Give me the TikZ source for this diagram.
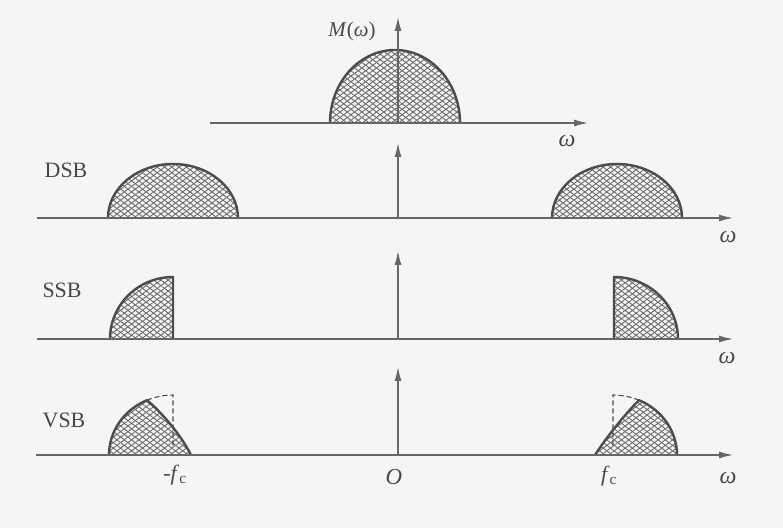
\documentclass[tikz,border=0pt]{standalone}
\usepackage{fontspec}
\setmainfont{Liberation Serif}
\usetikzlibrary{arrows.meta,patterns.meta}
\definecolor{paper}{HTML}{F5F5F5}
\definecolor{ink}{HTML}{4C4C4C}
\definecolor{axisc}{HTML}{666666}
\definecolor{hatchc}{HTML}{6A6A6A}
\definecolor{txt}{HTML}{484848}
\begin{document}
\begin{tikzpicture}[x=1bp,y=1bp,
  axis/.style={draw=axisc,line width=1.3bp,-{Latex[length=14bp,width=7bp]}},
  hatchfill/.style={preaction={pattern={Lines[angle=-37,distance=4.4bp,line width=.9bp]},pattern color=hatchc},
                    pattern={Lines[angle=37,distance=4.4bp,line width=.9bp]},pattern color=hatchc},
  outline/.style={draw=ink,line width=2.4bp,line join=round,line cap=round},
  dashline/.style={draw=ink,line width=1.1bp,dash pattern=on 5bp off 3bp},
  lab/.style={inner sep=0pt,text=txt},
  bandlab/.style={lab,font=\fontsize{22}{22}\selectfont},
  wlab/.style={lab,font=\fontsize{24}{24}\selectfont\itshape}]
\fill[paper] (0,0) rectangle (783,528);
\useasboundingbox (0,0) rectangle (783,528);

% ---------- top panel: M(omega)
\path[hatchfill] (330,405) arc[start angle=180,end angle=0,x radius=65,y radius=73] -- cycle;
\draw[outline] (330,405) arc[start angle=180,end angle=0,x radius=65,y radius=73];
\coordinate (ta0) at (210,405); \coordinate (ta1) at (588,405);
\coordinate (tv0) at (398,405); \coordinate (tv1) at (398,511);
\draw[axis] (ta0) -- (ta1);
\draw[axis] (tv0) -- (tv1);
\node[lab,font=\fontsize{21}{21}\selectfont] (mlab) at (352,497) {\textit{M}(\textit{ω})};
\node[wlab] (w1) at (567,387) {ω};

% ---------- DSB
\path[hatchfill] (108,310) arc[start angle=180,end angle=0,x radius=65,y radius=54] -- cycle;
\draw[outline] (108,310) arc[start angle=180,end angle=0,x radius=65,y radius=54];
\path[hatchfill] (552,310) arc[start angle=180,end angle=0,x radius=65,y radius=54] -- cycle;
\draw[outline] (552,310) arc[start angle=180,end angle=0,x radius=65,y radius=54];
\coordinate (da0) at (37,310); \coordinate (da1) at (733,310);
\coordinate (dv0) at (398,310); \coordinate (dv1) at (398,385);
\draw[axis] (da0) -- (da1);
\draw[axis] (dv0) -- (dv1);
\node[bandlab] (dsb) at (66,358) {DSB};
\node[wlab] (w2) at (728,291) {ω};

% ---------- SSB
\path[hatchfill] (110,189) arc[start angle=180,end angle=90,x radius=63,y radius=62] -- (173,189) -- cycle;
\draw[outline] (110,189) arc[start angle=180,end angle=90,x radius=63,y radius=62] -- (173,189);
\path[hatchfill] (614,189) -- (614,251) arc[start angle=90,end angle=0,x radius=64,y radius=62] -- cycle;
\draw[outline] (614,189) -- (614,251) arc[start angle=90,end angle=0,x radius=64,y radius=62];
\coordinate (sa0) at (37,189); \coordinate (sa1) at (733,189);
\coordinate (sv0) at (398,189); \coordinate (sv1) at (398,277);
\draw[axis] (sa0) -- (sa1);
\draw[axis] (sv0) -- (sv1);
\node[bandlab] (ssb) at (62,238) {SSB};
\node[wlab] (w3) at (727,170) {ω};

% ---------- VSB
\path[hatchfill] (109,73) arc[start angle=180,end angle=114,x radius=64,y radius=60]
   .. controls (159,118) and (180,95) .. (191,73) -- cycle;
\draw[outline] (109,73) arc[start angle=180,end angle=114,x radius=64,y radius=60]
   .. controls (159,118) and (180,95) .. (191,73);
\draw[dashline] (147,127.8) arc[start angle=114,end angle=90,x radius=64,y radius=60] -- (173,82);
\path[hatchfill] (595,73) .. controls (608,93) and (627,116) .. (639,127.8)
   arc[start angle=66,end angle=0,x radius=64,y radius=60] -- cycle;
\draw[outline] (595,73) .. controls (608,93) and (627,116) .. (639,127.8)
   arc[start angle=66,end angle=0,x radius=64,y radius=60];
\draw[dashline] (639,127.8) arc[start angle=66,end angle=90,x radius=64,y radius=60] -- (613,80);
\coordinate (va0) at (36,73); \coordinate (va1) at (733,73);
\coordinate (vv0) at (398,73); \coordinate (vv1) at (398,161);
\draw[axis] (va0) -- (va1);
\draw[axis] (vv0) -- (vv1);
\node[bandlab] (vsb) at (64,108) {VSB};
\node[wlab] (w4) at (728,50) {ω};
\node[lab,font=\fontsize{23}{23}\selectfont\itshape] (O) at (394,51) {O};
\node[lab,font=\fontsize{22}{22}\selectfont] (mfc) at (175,53) {-\textit{f}\textsubscript{c}};
\node[lab,font=\fontsize{22}{22}\selectfont] (fc) at (609,52) {\textit{f}\textsubscript{c}};
\end{tikzpicture}
\end{document}
